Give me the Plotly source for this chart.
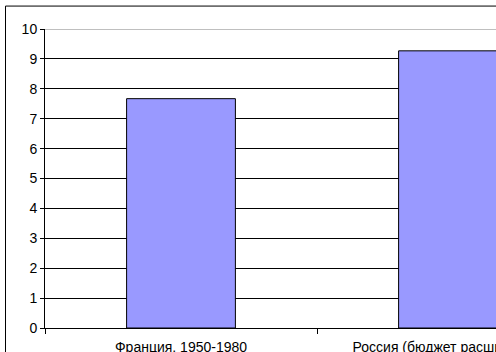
import plotly.graph_objects as go

categories = ["Франция, 1950-1980", "Россия (бюджет расширенного"]
values = [7.67, 9.27]
y_ticks = [0, 1, 2, 3, 4, 5, 6, 7, 8, 9, 10]

W, H = 496, 352
ml, mr, mt, mb = 45, 0, 28.5, 23.5
pw, ph = W - ml - mr, H - mt - mb

fig = go.Figure()
fig.add_trace(go.Bar(
    x=categories, y=values,
    marker=dict(color="#9999FF", line=dict(color="black", width=1)),
    width=0.4,
))

def px_to_paper_x(p):
    return (p - ml) / pw

def px_to_paper_y(p):
    return (H - mb - p) / ph

bx, by = px_to_paper_x(5.5), px_to_paper_y(5.5)
fig.add_shape(type="line", xref="paper", yref="paper", x0=bx, x1=bx, y0=-0.3, y1=by,
              line=dict(color="black", width=1))
fig.add_shape(type="line", xref="paper", yref="paper", x0=bx, x1=1.3, y0=by, y1=by,
              line=dict(color="black", width=1))
fig.add_shape(type="line", xref="paper", yref="y", x0=0, x1=1, y0=10, y1=10,
              line=dict(color="#808080", width=1), layer="above")

fig.update_layout(
    width=W, height=H,
    margin=dict(l=ml, r=mr, t=mt, b=mb, pad=0, autoexpand=False),
    paper_bgcolor="white", plot_bgcolor="white",
    font=dict(family="Liberation Sans, Arial, sans-serif", size=14, color="black"),
    showlegend=False,
    bargap=0.6,
    xaxis=dict(
        type="category", range=[-0.5, -0.5 + pw / 272.0], automargin=False,
        showline=True, linecolor="black", linewidth=1,
        ticks="outside", ticklen=5, tickcolor="black", tickson="boundaries",
        showgrid=False, tickangle=0, fixedrange=True, ticklabelstandoff=6,
    ),
    yaxis=dict(
        range=[0, 10], tickvals=y_ticks, automargin=False,
        showline=True, linecolor="black", linewidth=1,
        ticks="outside", ticklen=4, tickcolor="black",
        showgrid=True, gridcolor="black", gridwidth=1,
        zeroline=False, fixedrange=True,
    ),
)

fig.write_html("out.html")
